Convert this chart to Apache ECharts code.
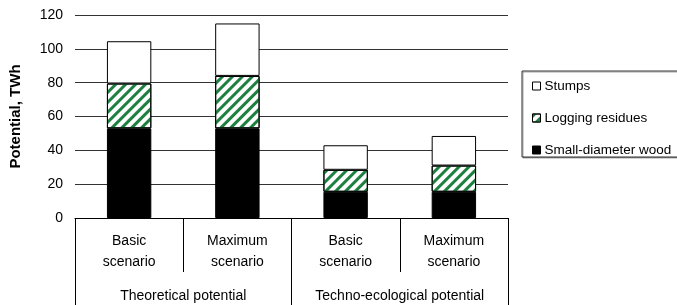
<!DOCTYPE html>
<html>
<head>
<meta charset="utf-8">
<script src="https://cdn.jsdelivr.net/npm/echarts@6/dist/echarts.min.js"></script>
<style>
  html, body { margin: 0; padding: 0; background: #fff; }
  #chart { width: 677px; height: 305px; }
</style>
</head>
<body>
<div id="chart"></div>
<script>
// scenarios (inner axis) and groups (outer axis)
const scenarios = ['Basic\nscenario', 'Maximum\nscenario', 'Basic\nscenario', 'Maximum\nscenario'];
const groups = ['Theoretical potential', 'Techno-ecological potential'];

// TWh
const smallWood = [53, 53, 15.5, 15.5];
const loggingResidues = [26.5, 31, 13, 15.5];
const stumps = [25, 31, 14.5, 17.5];

const yTicks = { min: 0, max: 120, interval: 20 };

const font = 'Liberation Sans, Arial, sans-serif';

const chart = echarts.init(document.getElementById('chart'));

const barBase = {
  type: 'bar',
  stack: 'total',
  barWidth: '41%',
  xAxisIndex: 0
};

chart.setOption({
  animation: false,
  textStyle: { fontFamily: font, color: '#000' },
  grid: { left: 74, right: 169, top: 15, bottom: 87 },
  legend: {
    orient: 'vertical',
    left: 522,
    top: 71,
    padding: [8, 10, 0, 10],
    icon: 'rect',
    itemWidth: 8,
    itemHeight: 8,
    itemGap: 18,
    borderColor: '#333',
    borderWidth: 1,
    shadowColor: 'rgba(0,0,0,0.35)',
    shadowOffsetY: 1,
    shadowOffsetX: 1,
    backgroundColor: '#fff',
    itemStyle: { borderWidth: 1, borderColor: '#000' },
    textStyle: { fontSize: 13.5, color: '#000', fontFamily: font, padding: [0, 0, 0, -1] },
    data: ['Stumps', 'Logging residues', 'Small-diameter wood']
  },
  xAxis: [
    {
      type: 'category',
      data: scenarios,
      position: 'bottom',
      axisLine: { lineStyle: { color: '#000', width: 1 } },
      axisTick: { show: true, length: 54, lineStyle: { color: '#000' } },
      axisLabel: { fontSize: 14, color: '#000', lineHeight: 21, margin: 13, interval: 0 }
    },
    {
      type: 'category',
      data: groups,
      position: 'bottom',
      axisLine: { show: false },
      axisTick: { show: true, length: 90, lineStyle: { color: '#000' } },
      axisLabel: { fontSize: 14, color: '#000', margin: 71, interval: 0 }
    }
  ],
  yAxis: {
    type: 'value',
    min: yTicks.min,
    max: yTicks.max,
    interval: yTicks.interval,
    name: 'Potential, TWh',
    nameLocation: 'middle',
    nameGap: 52,
    nameTextStyle: { fontSize: 15, fontWeight: 'bold', color: '#000' },
    axisLine: { show: false },
    axisTick: { show: false },
    axisLabel: { fontSize: 14, color: '#000', margin: 12 },
    splitLine: { lineStyle: { color: '#333', width: 1 } }
  },
  series: [
    Object.assign({}, barBase, {
      name: 'Small-diameter wood',
      data: smallWood,
      itemStyle: { color: '#000', borderColor: '#000', borderWidth: 1 }
    }),
    Object.assign({}, barBase, {
      name: 'Logging residues',
      data: loggingResidues,
      itemStyle: {
        color: '#fff',
        borderColor: '#000',
        borderWidth: 1,
        decal: {
          symbol: 'rect',
          symbolSize: 1,
          color: '#1e8040',
          dashArrayX: [1, 0],
          dashArrayY: [2.5, 4],
          rotation: -Math.PI / 4
        }
      }
    }),
    Object.assign({}, barBase, {
      name: 'Stumps',
      data: stumps,
      itemStyle: { color: '#fff', borderColor: '#000', borderWidth: 1 }
    })
  ]
});
</script>
</body>
</html>
